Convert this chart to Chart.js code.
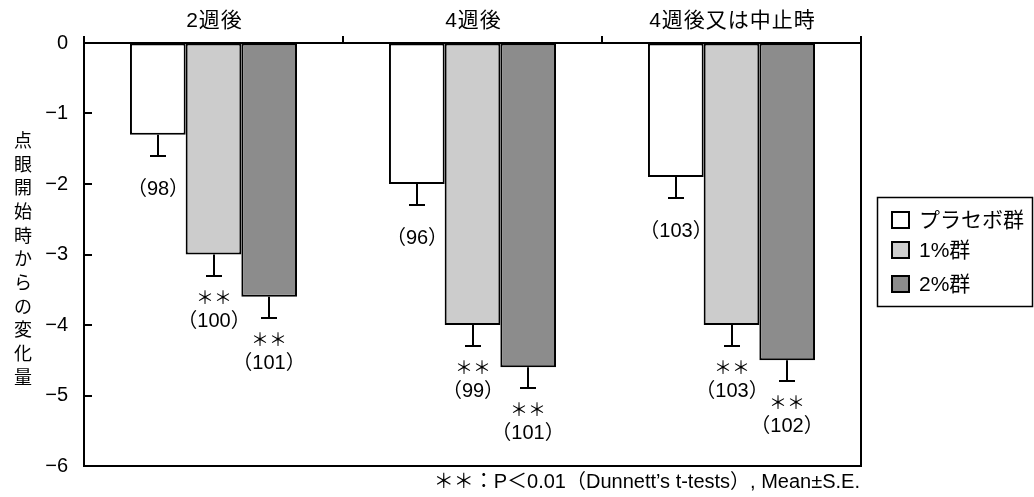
<!DOCTYPE html>
<html><head><meta charset="utf-8">
<script src="https://cdn.jsdelivr.net/npm/chart.js@4"></script>
<style>html,body{margin:0;padding:0;background:#fff}</style>
</head><body>
<canvas id="c" width="1034" height="497"></canvas>
<script>
const categories = ['2週後', '4週後', '4週後又は中止時'];
const seriesNames = ['プラセボ群', '1%群', '2%群'];
const placebo = [-1.3, -2.0, -1.9];
const pct1 = [-3.0, -4.0, -4.0];
const pct2 = [-3.6, -4.6, -4.5];
const sePlacebo = [0.3, 0.3, 0.3];
const sePct1 = [0.3, 0.3, 0.3];
const sePct2 = [0.3, 0.3, 0.3];
const nPlacebo = [98, 96, 103];
const nPct1 = [100, 99, 103];
const nPct2 = [101, 101, 102];
const sigPlacebo = ['', '', ''];
const sigPct1 = ['＊＊', '＊＊', '＊＊'];
const sigPct2 = ['＊＊', '＊＊', '＊＊'];
const yTicks = [0, -1, -2, -3, -4, -5, -6];
const yTitle = '点眼開始時からの変化量';
const footnote = '＊＊：P＜0.01（Dunnett’s t-tests）, Mean±S.E.';

const FONT = '"Liberation Sans", "Noto Sans CJK JP", sans-serif';
const colors = ['#ffffff', '#cccccc', '#8c8c8c'];
const seriesData = [placebo, pct1, pct2];
const seArr = [sePlacebo, sePct1, sePct2];
const nArr = [nPlacebo, nPct1, nPct2];
const sigArr = [sigPlacebo, sigPct1, sigPct2];

const deco = {
  id: 'deco',
  afterDatasetsDraw(chart) {
    const ctx = chart.ctx, a = chart.chartArea, y = chart.scales.y;
    ctx.save();
    ctx.strokeStyle = '#000';
    ctx.fillStyle = '#000';
    ctx.lineWidth = 2;
    // right and bottom frame
    ctx.beginPath();
    ctx.moveTo(a.right, a.top - 7);
    ctx.lineTo(a.right, a.bottom);
    ctx.lineTo(a.left, a.bottom);
    ctx.stroke();
    // inward y ticks
    yTicks.forEach(v => {
      const py = Math.round(y.getPixelForValue(v));
      ctx.beginPath(); ctx.moveTo(a.left, py); ctx.lineTo(a.left + 8, py); ctx.stroke();
    });
    // error bars and labels
    chart.data.datasets.forEach((ds, di) => {
      const meta = chart.getDatasetMeta(di);
      meta.data.forEach((bar, i) => {
        const v = ds.data[i], se = seArr[di][i];
        const bx = Math.round(bar.x);
        const yb = y.getPixelForValue(v), ye = Math.round(y.getPixelForValue(v - se));
        ctx.lineWidth = 2;
        ctx.beginPath();
        ctx.moveTo(bx, yb); ctx.lineTo(bx, ye);
        ctx.moveTo(bx - 8, ye); ctx.lineTo(bx + 8, ye);
        ctx.stroke();
        ctx.textAlign = 'center'; ctx.textBaseline = 'middle';
        const lab = '（' + nArr[di][i] + '）';
        if (sigArr[di][i]) {
          ctx.font = '18px "Noto Sans CJK JP"';
          ctx.fillText(sigArr[di][i], bx, ye + 21);
          ctx.font = '20px ' + FONT;
          ctx.fillText(lab, bx, ye + 45);
        } else {
          ctx.font = '20px ' + FONT;
          ctx.fillText(lab, bx, ye + 33);
        }
      });
    });
    ctx.restore();
  },
  afterDraw(chart) {
    const ctx = chart.ctx, x = chart.scales.x;
    ctx.save();
    ctx.fillStyle = '#000'; ctx.strokeStyle = '#000';
    // category labels
    ctx.font = '21px ' + FONT;
    ctx.textAlign = 'center'; ctx.textBaseline = 'middle';
    ctx.letterSpacing = '1px';
    categories.forEach((c, i) => {
      ctx.fillText(c, x.getPixelForValue(i) + 1, 21);
    });
    // y title, vertical stacked
    ctx.letterSpacing = '0px';
    ctx.font = '18px "Noto Sans CJK JP"';
    Array.from(yTitle).forEach((ch, i) => ctx.fillText(ch, 23, 140 + i * 23.7));
    // legend
    ctx.lineWidth = 1.5;
    ctx.strokeRect(877.5, 197.5, 155, 109);
    ctx.lineWidth = 2;
    ctx.textAlign = 'left';
    ctx.font = '21px ' + FONT;
    ctx.letterSpacing = '0px';
    const ly = [220, 250, 284];
    seriesNames.forEach((s, i) => {
      ctx.fillStyle = colors[i];
      ctx.fillRect(892, ly[i] - 8, 17, 16);
      ctx.strokeRect(892, ly[i] - 8, 17, 16);
      ctx.fillStyle = '#000';
      ctx.fillText(s, 919, ly[i] + 1);
    });
    // footnote
    ctx.font = '20px ' + FONT;
    ctx.textAlign = 'right';
    ctx.fillText(footnote, 860, 482);
    ctx.restore();
  }
};

new Chart(document.getElementById('c'), {
  type: 'bar',
  data: {
    labels: categories,
    datasets: seriesNames.map((name, i) => ({
      label: name,
      data: seriesData[i],
      backgroundColor: colors[i],
      borderColor: '#000',
      borderWidth: 2,
      borderSkipped: false,
      categoryPercentage: 0.645,
      barPercentage: 1.0
    }))
  },
  options: {
    responsive: false,
    devicePixelRatio: 1,
    animation: false,
    layout: { padding: { left: 0, top: 0, right: 173, bottom: 31 } },
    plugins: { legend: { display: false }, tooltip: { enabled: false } },
    scales: {
      x: {
        position: 'top',
        offset: true,
        grid: { offset: true, drawOnChartArea: false, drawTicks: true, tickLength: 7, color: '#000', lineWidth: 2 },
        border: { display: true, color: '#000', width: 2 },
        ticks: { display: false },
        afterFit: s => { s.height = 43; }
      },
      y: {
        min: -6, max: 0,
        grid: { drawOnChartArea: false, drawTicks: false },
        border: { display: true, color: '#000', width: 2 },
        ticks: {
          stepSize: 1, padding: 16, color: '#000',
          font: { family: FONT, size: 20 },
          callback: v => v < 0 ? '−' + Math.abs(v) : String(v)
        },
        afterFit: s => { s.width = 84; }
      }
    }
  },
  plugins: [deco]
});
</script>
</body></html>
